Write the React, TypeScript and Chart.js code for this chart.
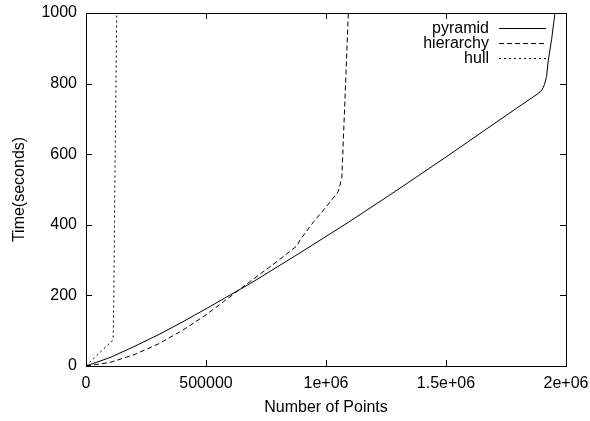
import React, { useEffect, useRef } from "react";
import { Chart, registerables } from "chart.js";

Chart.register(...registerables);

const seriesNames = ["pyramid", "hierarchy", "hull"];

const pyramidX = [0, 100000, 200000, 300000, 400000, 500000, 600000, 700000, 800000, 900000, 1000000, 1100000, 1200000, 1300000, 1400000, 1500000, 1600000, 1700000, 1800000, 1880000, 1900000, 1910000, 1919000, 1926000, 1940000, 1954000, 1962000];
const pyramidY = [0, 24, 55, 88, 124, 162, 201, 240, 282, 324, 367, 410, 455, 500, 546, 592, 639, 686, 733, 770, 782, 797, 820, 865, 925, 1000, 1045];

const hierarchyX = [0, 100000, 200000, 300000, 400000, 500000, 600000, 683000, 800000, 878000, 892000, 950000, 1000000, 1051000, 1058000, 1066000, 1079000, 1093000, 1097000];
const hierarchyY = [0, 10, 32, 62, 100, 145, 196, 239, 298, 340, 357, 410, 450, 494, 512, 535, 754, 1000, 1060];

const hullX = [0, 56000, 113000, 116000, 120000, 125000, 128000, 129000];
const hullY = [0, 37, 74, 200, 500, 800, 1000, 1050];

const xTickValues = [0, 500000, 1000000, 1500000, 2000000];
const xTickLabels = ["0", "500000", "1e+06", "1.5e+06", "2e+06"];
const yTickLabels = ["0", "200", "400", "600", "800", "1000"];

const FONT = "'Liberation Sans', Arial, Helvetica, sans-serif";

const zip = (xs: number[], ys: number[]) => xs.map((x, i) => ({ x, y: ys[i] }));

const framePlugin = {
  id: "gnuplotFrame",
  afterDatasetsDraw(chart: any) {
    const { ctx, chartArea, scales } = chart;
    const { left, right, top, bottom } = chartArea;
    ctx.save();
    ctx.strokeStyle = "#000";
    ctx.lineWidth = 1;
    ctx.setLineDash([]);
    ctx.strokeRect(Math.round(left) + 0.5, Math.round(top) + 0.5, Math.round(right) - Math.round(left), Math.round(bottom) - Math.round(top));
    const tl = 6;
    ctx.beginPath();
    scales.x.ticks.forEach((t: any) => {
      const px = Math.round(scales.x.getPixelForValue(t.value)) + 0.5;
      ctx.moveTo(px, bottom);
      ctx.lineTo(px, bottom - tl);
      ctx.moveTo(px, top);
      ctx.lineTo(px, top + tl);
    });
    scales.y.ticks.forEach((t: any) => {
      const py = Math.round(scales.y.getPixelForValue(t.value)) + 0.5;
      ctx.moveTo(left, py);
      ctx.lineTo(left + tl, py);
      ctx.moveTo(right, py);
      ctx.lineTo(right - tl, py);
    });
    ctx.stroke();

    // legend
    ctx.font = `16px ${FONT}`;
    ctx.fillStyle = "#000";
    ctx.textAlign = "right";
    ctx.textBaseline = "middle";
    chart.data.datasets.forEach((ds: any, i: number) => {
      const y = Math.round(top + 15 + 15 * i) + 0.5;
      ctx.fillText(ds.label, right - 77, y);
      ctx.setLineDash(ds.borderDash || []);
      ctx.beginPath();
      ctx.moveTo(right - 67, y);
      ctx.lineTo(right - 20, y);
      ctx.stroke();
    });
    ctx.restore();
  },
};

export default function App() {
  const ref = useRef<HTMLCanvasElement | null>(null);
  useEffect(() => {
    if (!ref.current) return;
    const common = { borderColor: "#000", borderWidth: 1, pointRadius: 0, tension: 0, fill: false };
    const chart = new Chart(ref.current, {
      type: "line",
      data: {
        datasets: [
          { ...common, label: seriesNames[0], data: zip(pyramidX, pyramidY), borderDash: [] },
          { ...common, label: seriesNames[1], data: zip(hierarchyX, hierarchyY), borderDash: [5, 3] },
          { ...common, label: seriesNames[2], data: zip(hullX, hullY), borderDash: [2, 3] },
        ],
      },
      options: {
        responsive: false,
        animation: false,
        devicePixelRatio: 1,
        layout: { padding: { left: 0, top: 13, right: 24, bottom: 0 } },
        plugins: { legend: { display: false }, tooltip: { enabled: false } },
        scales: {
          x: {
            type: "linear",
            min: 0,
            max: 2000000,
            afterFit: (s: any) => { s.height = 55; s.paddingLeft = 0; s.paddingRight = 0; },
            afterBuildTicks: (s: any) => { s.ticks = xTickValues.map((v) => ({ value: v })); },
            grid: { display: false, drawTicks: false },
            border: { display: false },
            ticks: {
              color: "#000",
              padding: 8,
              maxRotation: 0,
              autoSkip: false,
              font: { family: FONT, size: 16 },
              callback: (v: any) => { const i = xTickValues.indexOf(Number(v)); return i >= 0 ? xTickLabels[i] : ""; },
            },
            title: { display: true, text: "Number of Points", color: "#000", font: { family: FONT, size: 16 }, padding: { top: 0, bottom: 4 } },
          },
          y: {
            type: "linear",
            min: 0,
            max: 1000,
            afterFit: (s: any) => { s.width = 86; s.paddingTop = 0; s.paddingBottom = 0; },
            grid: { display: false, drawTicks: false },
            border: { display: false },
            ticks: {
              color: "#000",
              padding: 9,
              stepSize: 200,
              font: { family: FONT, size: 16 },
              callback: (v: any, i: number) => yTickLabels[i] ?? String(v),
            },
            title: { display: true, text: "Time(seconds)", color: "#000", font: { family: FONT, size: 16 }, padding: { top: 10, bottom: 0 } },
          },
        },
      },
      plugins: [framePlugin],
    } as any);
    return () => chart.destroy();
  }, []);
  return (
    <div style={{ position: "absolute", left: 0, top: 0, width: 590, height: 421, background: "#fff" }}>
      <canvas ref={ref} width={590} height={421} style={{ display: "block" }} />
    </div>
  );
}
